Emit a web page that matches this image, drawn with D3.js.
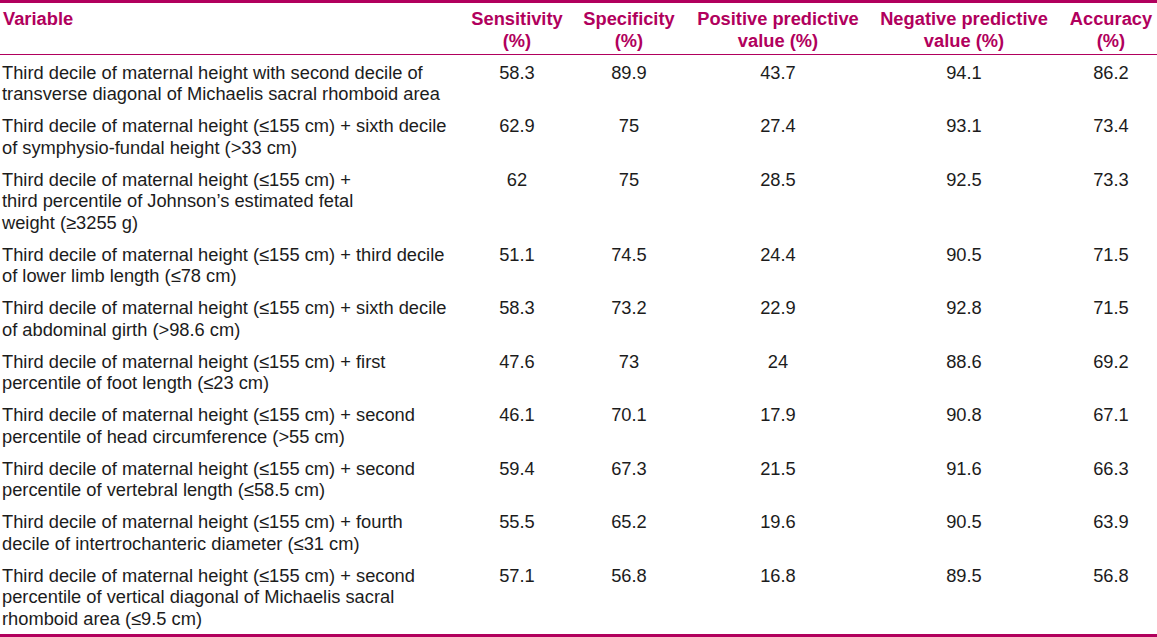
<!DOCTYPE html>
<html>
<head>
<meta charset="utf-8">
<script src="https://cdn.jsdelivr.net/npm/d3@7"></script>
<style>
  body { margin: 0; background: #fff; }
  svg { display: block; font-family: "Liberation Sans", Arial, sans-serif; }
</style>
</head>
<body>
<div id="table"></div>
<script>
// table contents
const headers = [
    ["Variable"],
    ["Sensitivity", "(%)"],
    ["Specificity", "(%)"],
    ["Positive predictive", "value (%)"],
    ["Negative predictive", "value (%)"],
    ["Accuracy", "(%)"]
];

const variables = [
    ["Third decile of maternal height with second decile of", "transverse diagonal of Michaelis sacral rhomboid area"],
    ["Third decile of maternal height (\u2264155 cm) + sixth decile", "of symphysio-fundal height (>33 cm)"],
    ["Third decile of maternal height (\u2264155 cm) +", "third percentile of Johnson\u2019s estimated fetal", "weight (\u22653255 g)"],
    ["Third decile of maternal height (\u2264155 cm) + third decile", "of lower limb length (\u226478 cm)"],
    ["Third decile of maternal height (\u2264155 cm) + sixth decile", "of abdominal girth (>98.6 cm)"],
    ["Third decile of maternal height (\u2264155 cm) + first", "percentile of foot length (\u226423 cm)"],
    ["Third decile of maternal height (\u2264155 cm) + second", "percentile of head circumference (>55 cm)"],
    ["Third decile of maternal height (\u2264155 cm) + second", "percentile of vertebral length (\u226458.5 cm)"],
    ["Third decile of maternal height (\u2264155 cm) + fourth", "decile of intertrochanteric diameter (\u226431 cm)"],
    ["Third decile of maternal height (\u2264155 cm) + second", "percentile of vertical diagonal of Michaelis sacral", "rhomboid area (\u22649.5 cm)"]
];

const sensitivity = ["58.3", "62.9", "62", "51.1", "58.3", "47.6", "46.1", "59.4", "55.5", "57.1"];
const specificity = ["89.9", "75", "75", "74.5", "73.2", "73", "70.1", "67.3", "65.2", "56.8"];
const ppv = ["43.7", "27.4", "28.5", "24.4", "22.9", "24", "17.9", "21.5", "19.6", "16.8"];
const npv = ["94.1", "93.1", "92.5", "90.5", "92.8", "88.6", "90.8", "91.6", "90.5", "89.5"];
const accuracy = ["86.2", "73.4", "73.3", "71.5", "71.5", "69.2", "67.1", "66.3", "63.9", "56.8"];

// dimensions
const width = 1157, height = 637;
const fontSize = 18.3, lineH = 21.5, rowPad = 10.5;
const headTop = 3, headH = 52;
const accent = "#b1005d", ink = "#1c1c1c";

const svg = d3.select("#table")
    .append("svg")
    .attr("width", width)
    .attr("height", height);

// column centres for the numeric columns
const colKeys = ["sens", "spec", "ppv", "npv", "acc"];
const colX = d3.scaleOrdinal()
    .domain(colKeys)
    .range([517, 629, 778, 964, 1111]);

const rows = variables.map((v, i) => ({
    lines: v,
    sens: sensitivity[i],
    spec: specificity[i],
    ppv: ppv[i],
    npv: npv[i],
    acc: accuracy[i]
}));

// row tops from the number of lines in each row
let y0 = headTop + headH;
rows.forEach(r => {
    r.top = y0;
    r.h = r.lines.length * lineH + rowPad;
    y0 += r.h;
});

// header rules
svg.append("line")
    .attr("x1", 0).attr("x2", width)
    .attr("y1", 1.5).attr("y2", 1.5)
    .attr("stroke", accent).attr("stroke-width", 3);
svg.append("line")
    .attr("x1", 0).attr("x2", width)
    .attr("y1", headTop + headH - 0.5).attr("y2", headTop + headH - 0.5)
    .attr("stroke", accent).attr("stroke-width", 1);
svg.append("line")
    .attr("x1", 0).attr("x2", width)
    .attr("y1", y0 + 2.5).attr("y2", y0 + 2.5)
    .attr("stroke", accent).attr("stroke-width", 3);

// header text
const headG = svg.append("g").attr("id", "header");
headers.forEach((h, j) => {
    const t = headG.append("text")
        .attr("font-size", fontSize + "px")
        .attr("font-weight", 700)
        .attr("fill", accent)
        .attr("text-anchor", j === 0 ? "start" : "middle");
    const x = j === 0 ? 3 : colX(colKeys[j - 1]);
    h.forEach((line, k) => {
        t.append("tspan")
            .attr("x", x)
            .attr("y", 24.5 + k * 22)
            .text(line);
    });
});

// body rows
const body = svg.append("g").attr("id", "body");
const rowG = body.selectAll("g.row")
    .data(rows)
    .enter()
    .append("g")
    .attr("class", "row")
    .attr("transform", d => `translate(0,${d.top})`);

const firstBase = 17 + fontSize * 0.35 + 0.5;

rowG.append("text")
    .attr("font-size", fontSize + "px")
    .attr("fill", ink)
    .each(function(d) {
        d3.select(this).selectAll("tspan")
            .data(d.lines)
            .enter()
            .append("tspan")
            .attr("x", 2)
            .attr("y", (l, k) => firstBase + k * lineH)
            .text(l => l);
    });

colKeys.forEach(key => {
    rowG.append("text")
        .attr("x", colX(key))
        .attr("y", firstBase)
        .attr("font-size", fontSize + "px")
        .attr("fill", ink)
        .attr("text-anchor", "middle")
        .text(d => d[key]);
});
</script>
</body>
</html>
